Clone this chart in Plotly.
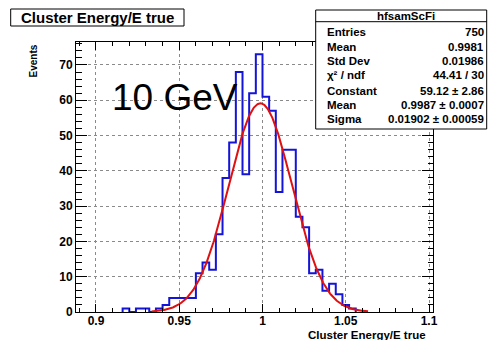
import numpy as np
import plotly.graph_objects as go

# Histogram of cluster energy / true energy (bin width 0.004)
bin_edges_left = [0.916, 0.920, 0.924, 0.928, 0.932, 0.936, 0.940, 0.944, 0.948, 0.952,
                  0.956, 0.960, 0.964, 0.968, 0.972, 0.976, 0.980, 0.984, 0.988, 0.992,
                  0.996, 1.000, 1.004, 1.008, 1.012, 1.016, 1.020, 1.024, 1.028, 1.032,
                  1.036, 1.040, 1.044, 1.048, 1.052]
counts = [1, 0, 1, 1, 0, 1, 2, 4, 4, 4,
          4, 11, 14, 12, 22, 38, 48, 68, 39, 62,
          73, 61, 57, 34, 46, 46, 27, 24, 11, 12,
          6, 8, 5, 2, 1]
bin_width = 0.004

# Gaussian fit results
fit_constant = 59.12
fit_mean = 0.9987
fit_sigma = 0.01902
fit_range = [0.9334, 1.0634]

stats_title = "hfsamScFi"
stats_labels = ["Entries", "Mean", "Std Dev", "χ² / ndf", "Constant", "Mean", "Sigma"]
stats_values = ["750", "0.9981", "0.01986", "44.41 / 30", "59.12 ± 2.86",
                "0.9987 ± 0.0007", "0.01902 ± 0.00059"]

x_range = [0.888, 1.1024]
y_range = [0, 76.5]

# figure geometry in pixels
FW, FH = 489, 340
L, R, T, B = 76, 56, 42, 28
W, H = FW - L - R, FH - T - B


def px(x):
    return (x - L) / W


def py(y):
    return (FH - B - y) / H


FONT = "Liberation Sans, Arial, Helvetica, sans-serif"

# step outline of the histogram
hx = [bin_edges_left[0]] + bin_edges_left + [bin_edges_left[-1] + bin_width]
hy = [0] + counts + [counts[-1]]
hx.append(hx[-1])
hy.append(0)

xf = np.linspace(fit_range[0], fit_range[1], 400)
yf = fit_constant * np.exp(-0.5 * ((xf - fit_mean) / fit_sigma) ** 2)

fig = go.Figure()
fig.add_trace(go.Scatter(x=hx, y=hy, mode="lines", line_shape="hv",
                         line=dict(color="#1414d8", width=2), hoverinfo="skip"))
fig.add_trace(go.Scatter(x=xf, y=yf, mode="lines",
                         line=dict(color="#e01010", width=2), hoverinfo="skip"))

axis_common = dict(
    showline=True, linecolor="black", linewidth=1, mirror="ticks",
    ticks="inside", tickcolor="black", tickwidth=1,
    showgrid=True, gridcolor="#8a8a8a", griddash="dot", gridwidth=1,
    zeroline=False,
    tickfont=dict(family=FONT, size=12, color="black", weight="bold"),
)

fig.update_layout(
    width=FW, height=FH,
    margin=dict(l=L, r=R, t=T, b=B, pad=0),
    paper_bgcolor="white", plot_bgcolor="white",
    showlegend=False,
    xaxis=dict(range=x_range, tick0=0.9, dtick=0.05, ticklen=8, ticklabelstandoff=-2,
               minor=dict(dtick=0.01, ticklen=4, ticks="inside", tickcolor="black", showgrid=False),
               **axis_common),
    yaxis=dict(range=y_range, tick0=0, dtick=10, ticklen=11,
               minor=dict(dtick=2, ticklen=5.5, ticks="inside", tickcolor="black", showgrid=False),
               **axis_common),
)

shapes = []
annotations = []

# title box
shapes.append(dict(type="rect", xref="paper", yref="paper",
                   x0=px(10.7), x1=px(184), y0=py(26), y1=py(9),
                   line=dict(color="black", width=1), fillcolor="white", layer="above"))
annotations.append(dict(xref="paper", yref="paper", x=px(97), y=py(17.5),
                        text="Cluster Energy/E true", showarrow=False,
                        xanchor="center", yanchor="middle",
                        font=dict(family=FONT, size=15, color="black", weight="bold")))

# statistics box
sb_x0, sb_x1, sb_y0, sb_y1 = 315.7, 486.7, 10, 129
shapes.append(dict(type="rect", xref="paper", yref="paper",
                   x0=px(sb_x0), x1=px(sb_x1), y0=py(sb_y1), y1=py(sb_y0),
                   line=dict(color="black", width=1), fillcolor="white", layer="above"))
shapes.append(dict(type="line", xref="paper", yref="paper",
                   x0=px(sb_x0), x1=px(sb_x1), y0=py(21.7), y1=py(21.7),
                   line=dict(color="black", width=1), layer="above"))
annotations.append(dict(xref="paper", yref="paper", x=px(406), y=py(16),
                        text=stats_title, showarrow=False, xanchor="center", yanchor="middle",
                        font=dict(family=FONT, size=11.5, color="black", weight="bold")))
row_y = [32.3, 46.7, 61, 75.3, 90.7, 105, 119.3]
for lab, val, yy in zip(stats_labels, stats_values, row_y):
    annotations.append(dict(xref="paper", yref="paper", x=px(325), y=py(yy),
                            text=lab, showarrow=False, xanchor="left", yanchor="middle",
                            font=dict(family=FONT, size=11.5, color="black", weight="bold")))
    annotations.append(dict(xref="paper", yref="paper", x=px(486), y=py(yy),
                            text=val, showarrow=False, xanchor="right", yanchor="middle",
                            font=dict(family=FONT, size=11.5, color="black", weight="bold")))

# energy label
annotations.append(dict(xref="paper", yref="paper", x=px(110), y=py(97),
                        text="10 GeV", showarrow=False, xanchor="left", yanchor="middle",
                        font=dict(family=FONT, size=37, color="black")))

# axis titles
annotations.append(dict(xref="paper", yref="paper", x=px(428), y=py(334.5),
                        text="Cluster Energy/E true", showarrow=False,
                        xanchor="right", yanchor="middle",
                        font=dict(family=FONT, size=11.5, color="black", weight="bold")))
annotations.append(dict(xref="paper", yref="paper", x=px(33), y=py(43),
                        text="Events", showarrow=False, textangle=-90,
                        xanchor="center", yanchor="top",
                        font=dict(family=FONT, size=10, color="black", weight="bold")))

fig.update_layout(shapes=shapes, annotations=annotations)
fig.write_html("out.html")
